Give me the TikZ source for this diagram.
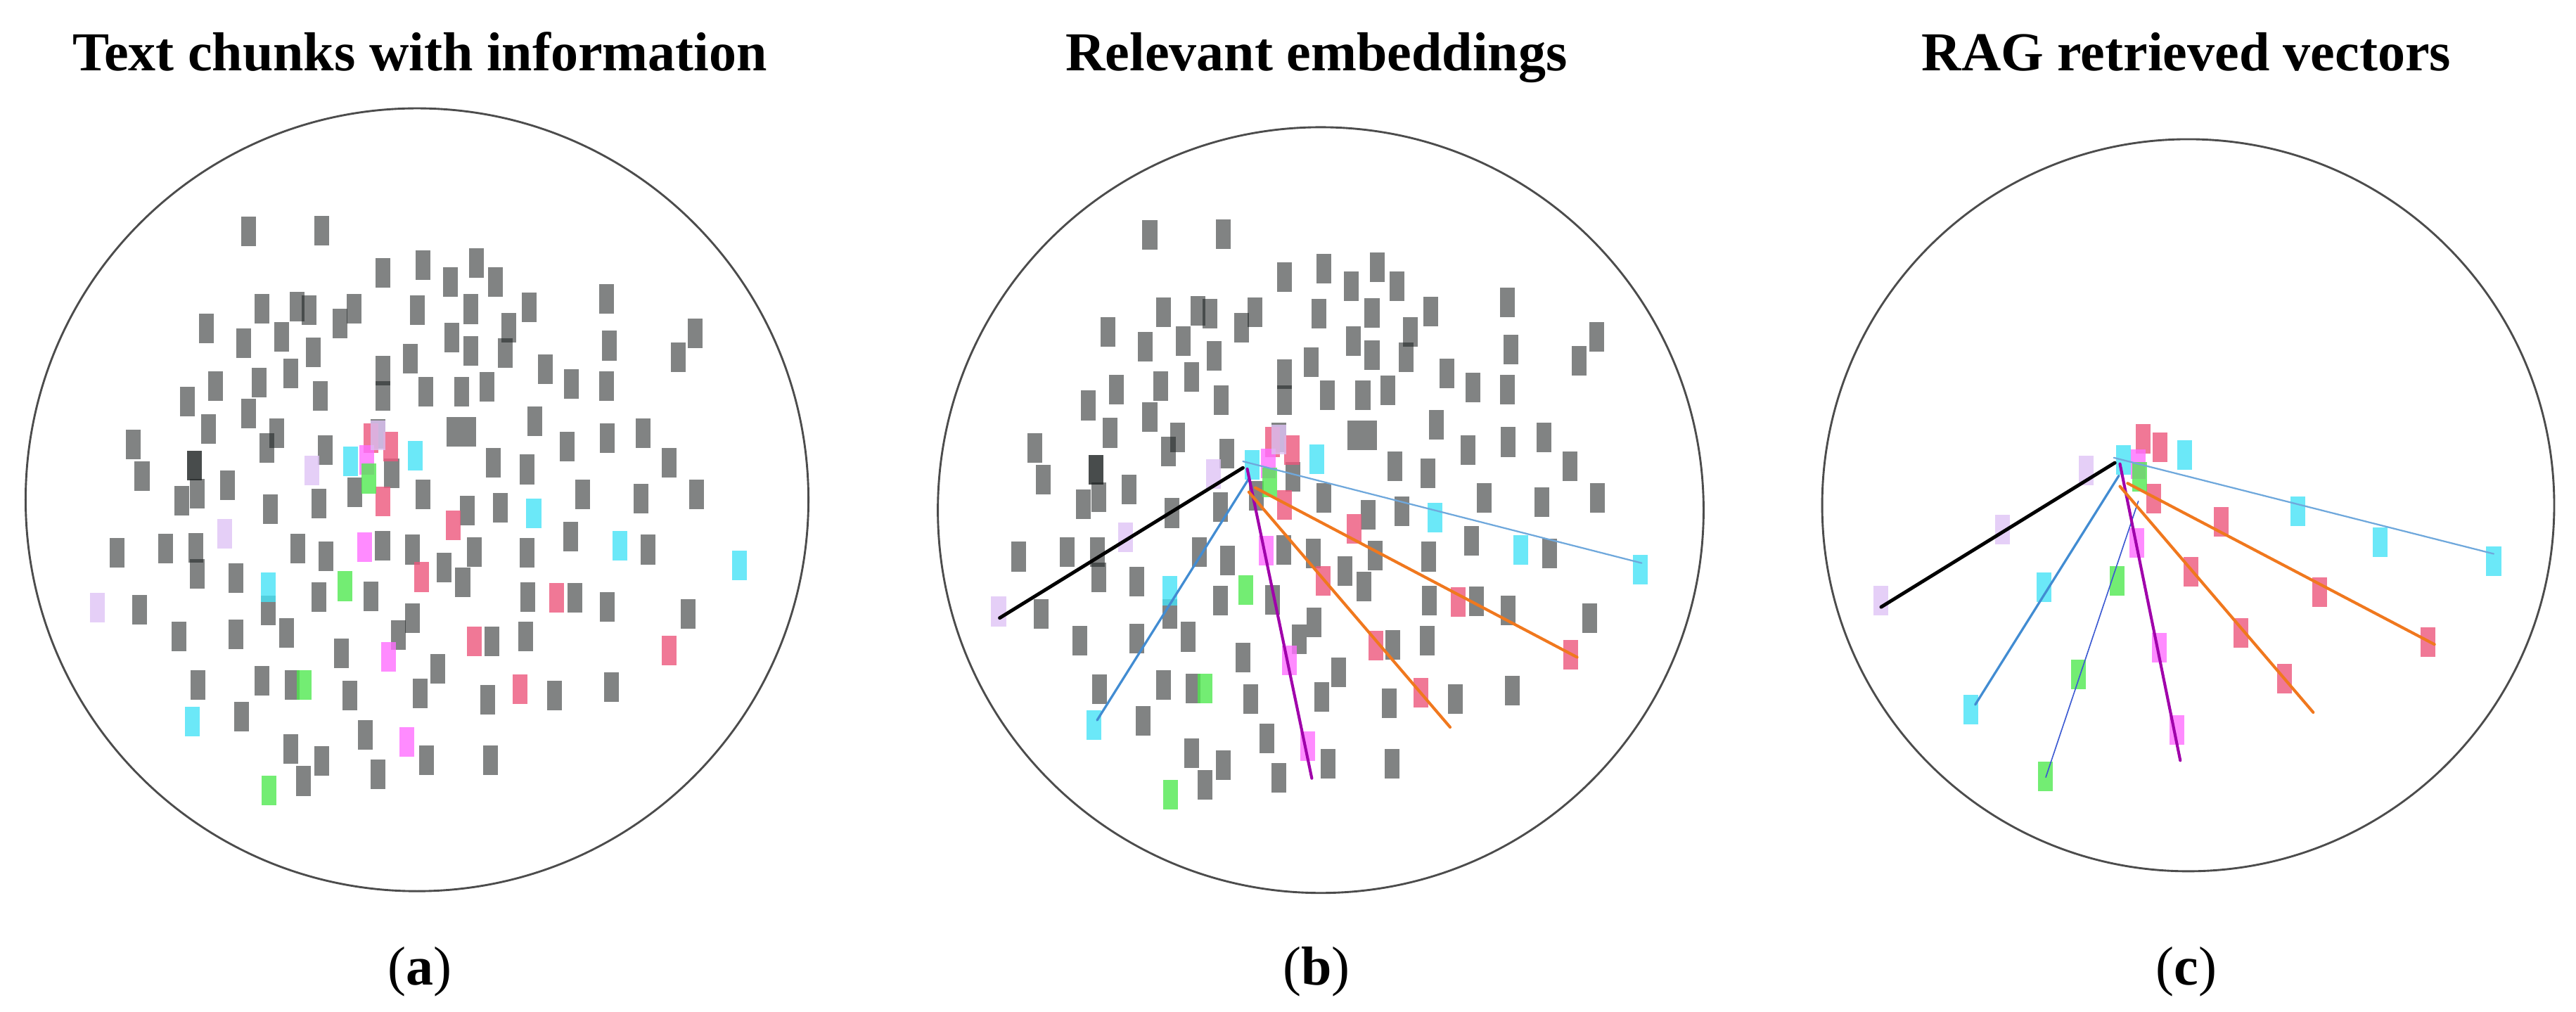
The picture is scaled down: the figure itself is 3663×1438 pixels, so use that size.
\documentclass[tikz,border=0pt]{standalone}
\usepackage{fontspec}
\setmainfont{Liberation Serif}
\usetikzlibrary{positioning}

\definecolor{chunkgray}{RGB}{25,30,30}
\definecolor{chunkred}{RGB}{236,86,124}
\definecolor{chunkcyan}{RGB}{70,226,246}
\definecolor{chunkmag}{RGB}{255,110,255}
\definecolor{chunkgreen}{RGB}{80,232,80}
\definecolor{chunklav}{RGB}{222,195,245}
\definecolor{qlight}{RGB}{111,168,220}
\definecolor{qblue}{RGB}{66,140,210}
\definecolor{qdeep}{RGB}{60,90,210}
\definecolor{qpurple}{RGB}{160,0,170}
\definecolor{qorange}{RGB}{240,120,30}

% positions of the chunks
\newcommand{\graychunks}{462/168, 598/167, 712/246, 786/231, 885/228, 837/263, 921/263,
  487/312, 552/309, 574/315, 658/312, 632/340, 776/315, 875/313, 984/310, 1127/294,
  384/349, 453/376, 524/365, 582/393, 840/366, 875/391, 946/348, 939/395, 1133/381,
  1292/358, 1260/402, 762/405, 712/427, 712/475, 540/432, 482/449, 400/456, 348/485,
  595/475, 792/466, 858/466, 905/457, 1014/425, 1062/452, 1127/456, 388/536, 462/507,
  514/544, 496/571, 248/564, 264/623, 362/604, 362/604, 367/656, 338/669, 423/641,
  605/575, 593/674, 503/685, 660/653, 702/545, 728/618, 994/521, 917/598, 979/611,
  1054/568, 1128/553, 1195/544, 1243/598, 786/657, 868/688, 930/682, 1083/657,
  1191/665, 1294/657, 218/766, 308/758, 364/757, 367/805, 438/813, 554/758, 606/773,
  711/753, 766/760, 825/793, 881/764, 860/821, 980/766, 1060/736, 1205/760, 260/872,
  332/922, 438/918, 499/873, 533/915, 593/848, 690/847, 767/888, 740/919, 981/848,
  1069/849, 1128/866, 914/930, 977/922, 1279/880, 368/1012, 487/1004, 543/1011,
  635/953, 650/1031, 781/1027, 813/981, 907/1039, 1030/1031, 1136/1015, 449/1071,
  679/1104, 540/1131, 598/1153, 564/1190, 702/1177, 793/1151, 912/1151}
\newcommand{\redchunks}{690/553, 726/568, 712/670, 842/715, 784/811, 1035/850, 882/931, 1244/948, 966/1019}
\newcommand{\cyanchunks}{652/596, 772/585, 992/693, 1152/753, 1374/790, 499/830, 358/1079}
\newcommand{\magchunks}{682/593, 678/755, 722/959, 756/1118}
\newcommand{\greenchunks}{685/628, 641/828, 565/1011, 500/1208}
\newcommand{\lavchunks}{702/548, 580/613, 417/730, 181/868}

% positions of the retrieved vectors, panel (c)
\newcommand{\redhits}{725/583, 759/600, 746/700, 878/746, 819/843, 1071/883, 917/963, 1282/980, 1002/1052}
\newcommand{\cyanhits}{687/625, 806/615, 1028/725, 1189/785, 1411/822, 532/873, 389/1113}
\newcommand{\maghits}{716/632, 713/787, 757/992, 791/1152}
\newcommand{\greenhits}{718/658, 675/861, 599/1044, 534/1243}
\newcommand{\lavhits}{614/645, 450/761, 213/900}

\tikzset{
    chunk/.style =  {rectangle,
                    draw=none,
                    fill=chunkgray,
                    fill opacity=0.55,
                    inner sep=0pt,
                    minimum width=0.18cm,
                    minimum height=0.36cm},
    hit/.style =    {chunk,
                    fill=#1,
                    fill opacity=0.8},
    ring/.style =   {draw=black!70,
                    line width=0.7pt},
    title/.style =  {anchor=base,
                    font=\fontsize{19}{23}\selectfont\bfseries},
    tag/.style =    {anchor=base,
                    font=\fontsize{19}{23}\selectfont},
    query/.style =  {line cap=round,
                    line width=#1},
    -}

\begin{document}
\begin{tikzpicture}[x=0.00856cm, y=-0.00856cm]
    \useasboundingbox (0,0) rectangle (3663,1438);

    % titles and tags
    \node[title]    (ta) at (597,100)   {Text chunks with information};
    \node[title]    (tb) at (1872,100)  {Relevant embeddings};
    \node[title]    (tc) at (3109,100)  {RAG retrieved vectors};
    \node[tag]      (la) at (597,1400)  {(\textbf{a})};
    \node[tag]      (lb) at (1872,1400) {(\textbf{b})};
    \node[tag]      (lc) at (3109,1400) {(\textbf{c})};

    % the three spaces
    \draw[ring] (593,710.6) circle [radius=4.764cm];
    \draw[ring] (1878,725.3) circle [radius=4.660cm];
    \draw[ring] (3111.5,718.4) circle [radius=4.455cm];

    % (a) all chunks
    \begin{scope}[shift={(0,200)}, scale=0.7651]
        \foreach \x/\y [count=\i] in \graychunks
            \node[chunk] (ga\i) at (\x,\y) {};
        \node[chunk, minimum width=0.36cm] (gasq) at (857,541) {};
        \foreach \x/\y [count=\i] in \redchunks
            \node[hit=chunkred] (ra\i) at (\x,\y) {};
        \foreach \x/\y [count=\i] in \cyanchunks
            \node[hit=chunkcyan] (ca\i) at (\x,\y) {};
        \foreach \x/\y [count=\i] in \magchunks
            \node[hit=chunkmag] (ma\i) at (\x,\y) {};
        \foreach \x/\y [count=\i] in \greenchunks
            \node[hit=chunkgreen] (na\i) at (\x,\y) {};
        \foreach \x/\y [count=\i] in \lavchunks
            \node[hit=chunklav] (va\i) at (\x,\y) {};
    \end{scope}

    % (b) same chunks
    \begin{scope}[shift={(1281.5,205.4)}, scale=0.7651]
        \foreach \x/\y [count=\i] in \graychunks
            \node[chunk] (gb\i) at (\x,\y) {};
        \node[chunk, minimum width=0.36cm] (gbsq) at (857,541) {};
        \foreach \x/\y [count=\i] in \redchunks
            \node[hit=chunkred] (rb\i) at (\x,\y) {};
        \foreach \x/\y [count=\i] in \cyanchunks
            \node[hit=chunkcyan] (cb\i) at (\x,\y) {};
        \foreach \x/\y [count=\i] in \magchunks
            \node[hit=chunkmag] (mb\i) at (\x,\y) {};
        \foreach \x/\y [count=\i] in \greenchunks
            \node[hit=chunkgreen] (nb\i) at (\x,\y) {};
        \foreach \x/\y [count=\i] in \lavchunks
            \node[hit=chunklav] (vb\i) at (\x,\y) {};
    \end{scope}

    % (b) query lines
    \begin{scope}[shift={(1280,200)}, scale=0.7651]
        \coordinate (qb1) at (637,608);  \coordinate (eb1) at (185,887);
        \coordinate (qb2) at (637,596);  \coordinate (eb2) at (1378,785);
        \coordinate (qb3) at (648,628);  \coordinate (eb3) at (366,1077);
        \coordinate (qb4) at (645,610);  \coordinate (eb4) at (765,1185);
        \coordinate (qb5) at (648,653);  \coordinate (eb5) at (1022,1090);
        \coordinate (qb6) at (660,645);  \coordinate (eb6) at (1258,960);
        \path   (qb1) edge [query=1.2pt, black]     (eb1)
                (qb2) edge [query=0.55pt, qlight]   (eb2)
                (qb3) edge [query=0.8pt, qblue]     (eb3)
                (qb4) edge [query=1pt, qpurple]     (eb4)
                (qb5) edge [query=1pt, qorange]     (eb5)
                (qb6) edge [query=1pt, qorange]     (eb6);
    \end{scope}

    % (c) retrieved vectors only
    \begin{scope}[shift={(2520,200)}, scale=0.7271]
        \foreach \x/\y [count=\i] in \redhits
            \node[hit=chunkred] (rc\i) at (\x,\y) {};
        \foreach \x/\y [count=\i] in \cyanhits
            \node[hit=chunkcyan] (cc\i) at (\x,\y) {};
        \foreach \x/\y [count=\i] in \maghits
            \node[hit=chunkmag] (mc\i) at (\x,\y) {};
        \foreach \x/\y [count=\i] in \greenhits
            \node[hit=chunkgreen] (nc\i) at (\x,\y) {};
        \foreach \x/\y [count=\i] in \lavhits
            \node[hit=chunklav] (vc\i) at (\x,\y) {};
        \coordinate (qc1) at (670,630);  \coordinate (ec1) at (213,912);
        \coordinate (qc2) at (668,620);  \coordinate (ec2) at (1411,808);
        \coordinate (qc3) at (678,655);  \coordinate (ec3) at (397,1103);
        \coordinate (qc4) at (716,705);  \coordinate (ec4) at (535,1245);
        \coordinate (qc5) at (680,632);  \coordinate (ec5) at (798,1212);
        \coordinate (qc6) at (680,676);  \coordinate (ec6) at (1058,1118);
        \coordinate (qc7) at (695,670);  \coordinate (ec7) at (1295,985);
        \path   (qc1) edge [query=1.2pt, black]     (ec1)
                (qc2) edge [query=0.55pt, qlight]   (ec2)
                (qc3) edge [query=0.8pt, qblue]     (ec3)
                (qc4) edge [query=0.4pt, qdeep]     (ec4)
                (qc5) edge [query=1pt, qpurple]     (ec5)
                (qc6) edge [query=1pt, qorange]     (ec6)
                (qc7) edge [query=1pt, qorange]     (ec7);
    \end{scope}
\end{tikzpicture}
\end{document}
